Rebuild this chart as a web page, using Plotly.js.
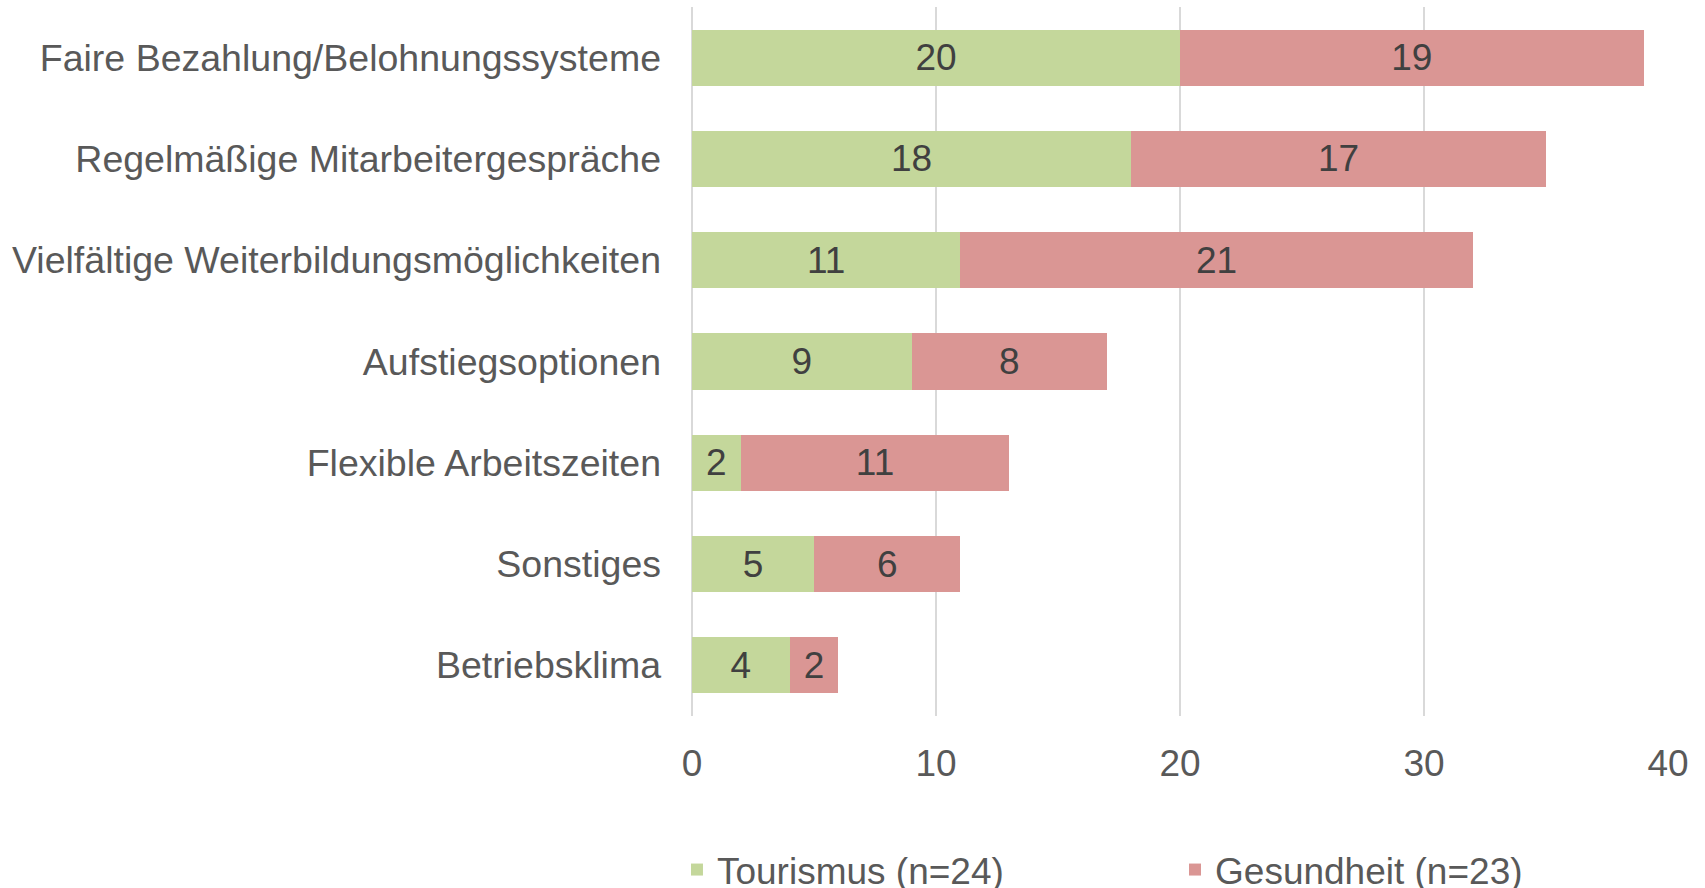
<!DOCTYPE html>
<html>
<head>
<meta charset="utf-8">
<script src="https://cdn.plot.ly/plotly-3.0.1.min.js"></script>
<style>
html,body{margin:0;padding:0;background:#fff;}
#chart{width:1705px;height:888px;}
</style>
</head>
<body>
<div id="chart"></div>
<script>
const categories = [
  "Faire Bezahlung/Belohnungssysteme",
  "Regelmäßige Mitarbeitergespräche",
  "Vielfältige Weiterbildungsmöglichkeiten",
  "Aufstiegsoptionen",
  "Flexible Arbeitszeiten",
  "Sonstiges",
  "Betriebsklima"
];
const tourismus = [20, 18, 11, 9, 2, 5, 4];
const gesundheit = [19, 17, 21, 8, 11, 6, 2];
const seriesNames = ["Tourismus (n=24)", "Gesundheit (n=23)"];
const xTicks = [0, 10, 20, 30, 40];

const FONT = '"Liberation Sans", Arial, sans-serif';

const traces = [
  {
    type: 'bar', orientation: 'h', name: seriesNames[0], legend: 'legend',
    y: categories, x: tourismus,
    marker: {color: '#C4D79B'},
    text: tourismus.map(String), textposition: 'inside', insidetextanchor: 'middle',
    textfont: {family: FONT, size: 37, color: '#404040'},
    constraintext: 'none', hoverinfo: 'none'
  },
  {
    type: 'bar', orientation: 'h', name: seriesNames[1], legend: 'legend2',
    y: categories, x: gesundheit,
    marker: {color: '#DA9694'},
    text: gesundheit.map(String), textposition: 'inside', insidetextanchor: 'middle',
    textfont: {family: FONT, size: 37, color: '#404040'},
    constraintext: 'none', hoverinfo: 'none'
  }
];

const legendFont = {family: FONT, size: 37, color: '#595959'};

const layout = {
  width: 1705, height: 888,
  margin: {l: 692, r: 37, t: 7, b: 172},
  barmode: 'stack',
  bargap: 0.447,
  paper_bgcolor: '#ffffff', plot_bgcolor: '#ffffff',
  font: {family: FONT, size: 37, color: '#595959'},
  xaxis: {
    range: [0, 40], tickvals: xTicks, ticktext: xTicks.map(String),
    showgrid: true, gridcolor: '#D9D9D9', gridwidth: 1.5,
    zeroline: true, zerolinecolor: '#D9D9D9', zerolinewidth: 1.5,
    showline: false, ticks: '', ticklabelstandoff: 22,
    tickfont: {family: FONT, size: 37, color: '#595959'}
  },
  yaxis: {
    autorange: 'reversed', showgrid: false, zeroline: false, showline: false,
    ticks: '', ticklabelstandoff: 30,
    tickfont: {family: FONT, size: 37.5, color: '#595959'}
  },
  showlegend: true,
  legend: {
    orientation: 'h', x: -0.0154, xanchor: 'left', xref: 'paper',
    y: 18/888, yanchor: 'middle', yref: 'container',
    font: legendFont, bgcolor: 'rgba(0,0,0,0)'
  },
  legend2: {
    orientation: 'h', x: 0.4949, xanchor: 'left', xref: 'paper',
    y: 18/888, yanchor: 'middle', yref: 'container',
    font: legendFont, bgcolor: 'rgba(0,0,0,0)'
  }
};

Plotly.newPlot('chart', traces, layout, {staticPlot: true, displayModeBar: false});
</script>
</body>
</html>
